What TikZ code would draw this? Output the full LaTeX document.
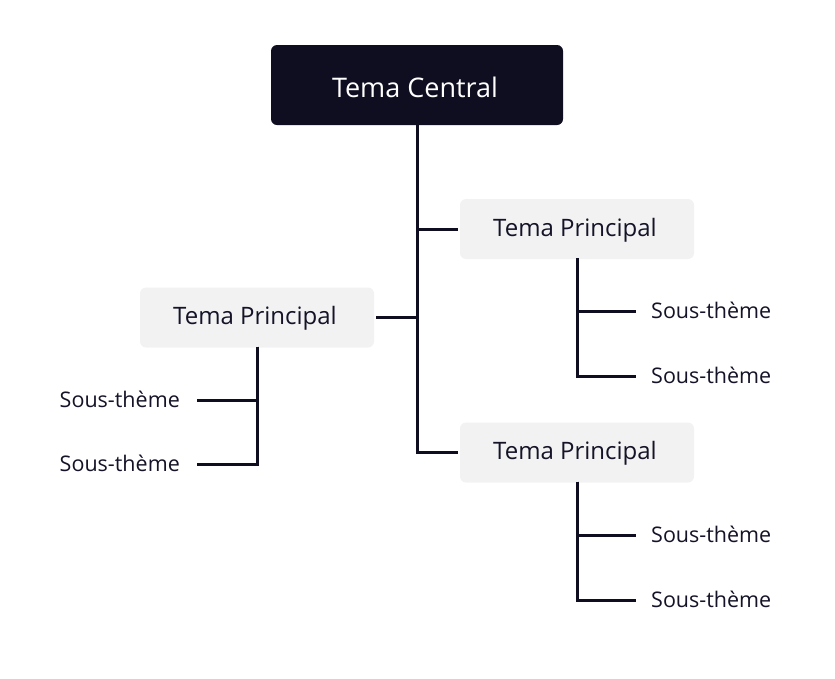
\documentclass[tikz,border=0pt]{standalone}
\usepackage{fontspec}
\setmainfont{Open Sans}
\definecolor{navy}{HTML}{0F0E21}
\definecolor{pgray}{HTML}{F2F2F3}
\definecolor{ink}{HTML}{141327}
\begin{document}
\begin{tikzpicture}[x=1pt,y=-1pt,
  central/.style={fill=navy,rounded corners=6pt,minimum width=292pt,minimum height=80pt,inner sep=0pt,text=white,font=\fontsize{27}{32}\selectfont},
  principal/.style={fill=pgray,rounded corners=6pt,minimum width=234pt,minimum height=60pt,inner sep=0pt,text=ink,font=\fontsize{24}{28}\selectfont},
  sous/.style={inner sep=0pt,text=ink,font=\fontsize{21.5}{26}\selectfont},
  link/.style={draw=navy,line width=3pt}]
\useasboundingbox (0,0) rectangle (835,678);
\node[central] (c) at (417,85) {};
\node[text=white,font=\fontsize{27}{32}\selectfont] (ct) at (415,87) {Tema Central};
\node[principal] (p1) at (577,229) {};
\node[principal] (p2) at (257,317.5) {};
\node[principal] (p3) at (577,452.5) {};
\node[text=ink,font=\fontsize{24}{28}\selectfont] (t1) at (575,230) {Tema Principal};
\node[text=ink,font=\fontsize{24}{28}\selectfont] (t2) at (255,318.5) {Tema Principal};
\node[text=ink,font=\fontsize{24}{28}\selectfont] (t3) at (575,453.5) {Tema Principal};
\node[sous,anchor=west] (s1) at (651,310) {Sous-thème};
\node[sous,anchor=west] (s2) at (651,375) {Sous-thème};
\node[sous,anchor=west] (s5) at (651,534) {Sous-thème};
\node[sous,anchor=west] (s6) at (651,599) {Sous-thème};
\node[sous,anchor=east] (s3) at (180,399) {Sous-thème};
\node[sous,anchor=east] (s4) at (180,463) {Sous-thème};
\draw[link] (c.south) |- ([xshift=-2pt]p3.west);
\draw[link] (c.south) |- ([xshift=-2pt]p1.west);
\draw[link] ([xshift=2pt]p2.east) -| (c.south);
\draw[link] ([yshift=1pt]p1.south) |- ([xshift=-15pt,yshift=-1pt]s1.west);
\draw[link] ([yshift=1pt]p1.south) |- ([xshift=-15pt,yshift=-1pt]s2.west);
\draw[link] ([yshift=1pt]p3.south) |- ([xshift=-15pt,yshift=-1pt]s5.west);
\draw[link] ([yshift=1pt]p3.south) |- ([xshift=-15pt,yshift=-1pt]s6.west);
\draw[link] ([yshift=1pt]p2.south) |- ([xshift=17pt,yshift=-1pt]s3.east);
\draw[link] ([yshift=1pt]p2.south) |- ([xshift=17pt,yshift=-1pt]s4.east);
\end{tikzpicture}
\end{document}
